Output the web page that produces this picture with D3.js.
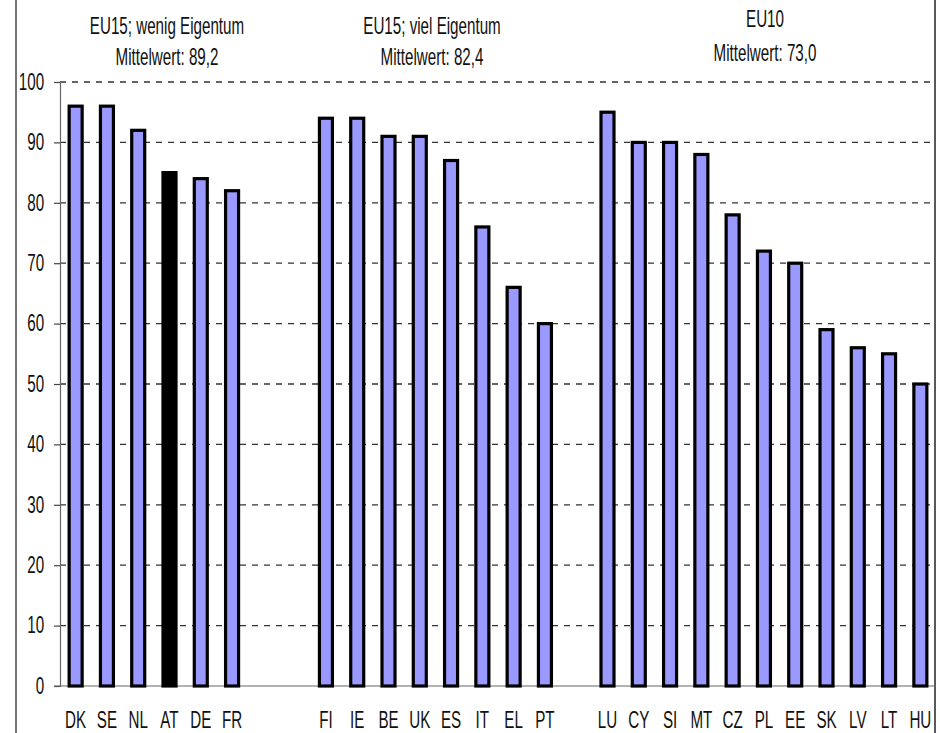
<!DOCTYPE html>
<html>
<head>
<meta charset="utf-8">
<script src="https://cdn.jsdelivr.net/npm/d3@7"></script>
<style>
  html, body { margin: 0; padding: 0; background: #fff; }
  svg { display: block; }
  text { font-family: "Liberation Sans", Arial, sans-serif; fill: #111; }
</style>
</head>
<body>
<svg id="chart" width="940" height="733"></svg>
<script>
// ---- data ----
const groupA = ["DK", "SE", "NL", "AT", "DE", "FR"];
const valuesA = [96, 96, 92, 85, 84, 82];
const groupB = ["FI", "IE", "BE", "UK", "ES", "IT", "EL", "PT"];
const valuesB = [94, 94, 91, 91, 87, 76, 66, 60];
const groupC = ["LU", "CY", "SI", "MT", "CZ", "PL", "EE", "SK", "LV", "LT", "HU"];
const valuesC = [95, 90, 90, 88, 78, 72, 70, 59, 56, 55, 50];
const groupTitles = ["EU15; wenig Eigentum", "EU15; viel Eigentum", "EU10"];
const groupMeans = ["Mittelwert: 89,2", "Mittelwert: 82,4", "Mittelwert: 73,0"];
const yTicks = [0, 10, 20, 30, 40, 50, 60, 70, 80, 90, 100];
const highlighted = "AT";

(function () {
const slots = [...groupA, "_gap1", "_gap2", ...groupB, "_gap3", ...groupC];
const data = [
  ...groupA.map((c, i) => ({ c, v: valuesA[i] })),
  ...groupB.map((c, i) => ({ c, v: valuesB[i] })),
  ...groupC.map((c, i) => ({ c, v: valuesC[i] }))
];

const H = 733;
const mLeft = 60, mRight = 936, mTop = 82, mBottom = 686;
const FS = 23, SX = 0.66;   // narrow, tall-looking text
const svg = d3.select("#chart");

const x = d3.scaleBand().domain(slots).range([mLeft, mRight]).padding(0);
const y = d3.scaleLinear().domain([0, 100]).range([mBottom, mTop]);

// frame lines
svg.append("line").attr("x1", 16).attr("x2", 16).attr("y1", 0).attr("y2", H)
  .attr("stroke", "#444").attr("stroke-width", 1.5);
svg.append("line").attr("x1", 935).attr("x2", 935).attr("y1", 0).attr("y2", H)
  .attr("stroke", "#222").attr("stroke-width", 1.5);

// gridlines
svg.append("g").selectAll("line").data(yTicks.filter(t => t > 0)).join("line")
  .attr("x1", mLeft).attr("x2", mRight)
  .attr("y1", d => y(d)).attr("y2", d => y(d))
  .attr("stroke", "#333").attr("stroke-width", 1.3)
  .attr("stroke-dasharray", "6,6");

// y axis
const yAxis = d3.axisLeft(y).tickValues(yTicks).tickSize(6).tickPadding(18);
const gy = svg.append("g").attr("transform", `translate(${mLeft},0)`).call(yAxis);
gy.select(".domain").attr("stroke", "#666").attr("stroke-width", 1.2);
gy.selectAll(".tick line").attr("stroke", "#444").attr("stroke-width", 1.2);
gy.selectAll(".tick text")
  .style("font-family", '"Liberation Sans", Arial, sans-serif')
  .style("font-size", FS + "px").attr("fill", "#111")
  .attr("transform", `scale(${SX},1)`);

// x axis baseline
svg.append("line").attr("x1", mLeft - 6).attr("x2", mRight).attr("y1", y(0)).attr("y2", y(0))
  .attr("stroke", "#666").attr("stroke-width", 1.2);

// bars
const bw = 13;
svg.append("g").selectAll("rect").data(data).join("rect")
  .attr("x", d => x(d.c) + (x.bandwidth() - bw) / 2)
  .attr("y", d => y(d.v))
  .attr("width", bw)
  .attr("height", d => y(0) - y(d.v))
  .attr("fill", d => d.c === highlighted ? "#000" : "#9999ff")
  .attr("stroke", "#000").attr("stroke-width", 3.2);

function narrowText(g, tx, ty, str) {
  return g.append("text")
    .attr("transform", `translate(${tx},${ty}) scale(${SX},1)`)
    .attr("text-anchor", "middle")
    .style("font-size", FS + "px")
    .text(str);
}

// x labels
const gx = svg.append("g");
data.forEach(d => narrowText(gx, x(d.c) + x.bandwidth() / 2, 728, d.c));

// group titles
const titlePos = [
  { x: 167, y1: 34, y2: 65 },
  { x: 432, y1: 34, y2: 65 },
  { x: 765, y1: 27, y2: 61 }
];
groupTitles.forEach((t, i) => {
  narrowText(svg, titlePos[i].x, titlePos[i].y1, t);
  narrowText(svg, titlePos[i].x, titlePos[i].y2, groupMeans[i]);
});
})();
</script>
</body>
</html>
